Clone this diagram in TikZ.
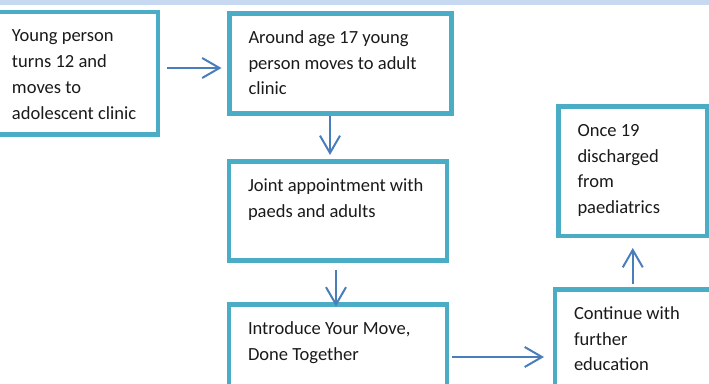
\documentclass[tikz,border=0pt]{standalone}
\usepackage{fontspec}
\setmainfont{Carlito}
\usetikzlibrary{arrows.meta,calc}
\definecolor{bordercol}{HTML}{4BACC6}
\definecolor{arrowcol}{HTML}{4A7EBB}
\definecolor{stripcol}{HTML}{C6D9F1}
\definecolor{textcol}{HTML}{1A1A1A}
\newdimen\pxl \pxl=0.75pt
\newcommand\boxtext[3]{\parbox[c][\dimexpr #2\pxl-14pt\relax][t]{\dimexpr #1\pxl-28.5pt\relax}{\raggedright\fontsize{13.9pt}{19.3pt}\selectfont\rule{0pt}{15.5pt}#3}}
\tikzset{
  box/.style={rectangle, draw=bordercol, line width=3.4pt, fill=white,
    inner xsep=14.25pt, inner ysep=7pt, outer sep=0pt, anchor=north west, text=textcol},
  arr/.style={draw=arrowcol, line width=1.5pt, -{Straight Barb[length=13pt,width=15pt]}}
}
\begin{document}
\begin{tikzpicture}[x=0.75pt,y=-0.75pt]
\useasboundingbox (0,0) rectangle (709,384);
\fill[stripcol] (0,0) rectangle (709,5);
\node[box] (b1) at (-7,12) {\boxtext{165}{122.5}{Young person\\turns 12 and\\moves to\\adolescent clinic}};
\node[box] (b2) at (229.5,13.5) {\boxtext{222}{100}{Around age 17 young\\person moves to adult\\clinic}};
\node[box] (b3) at (229,161.5) {\boxtext{218}{99}{Joint appointment with\\paeds and adults}};
\node[box] (b4) at (229,304.5) {\boxtext{218}{115.5}{Introduce Your Move,\\Done Together}};
\node[box] (b5) at (558.5,106.5) {\boxtext{148.5}{129.5}{Once 19\\discharged\\from\\paediatrics}};
\node[box] (b6) at (555,289.5) {\boxtext{205}{130.5}{Continue with\\further\\education}};
\draw[arr] ($(b1.east)+(9,-5.25)$) -- ($(b1.east -| b2.west)+(-8,-5.25)$);
\draw[arr] ($(b2.south)+(-10.5,2.5)$) -- ($(b2.south |- b3.north)+(-10.5,-6.5)$);
\draw[arr] ($(b3.south)+(-2,9.5)$) -- ($(b3.south |- b4.north)+(-2,2)$);
\draw[arr] ($(b4.north east)+(5,52.5)$) -- ($(b4.north east -| b6.west)+(-11,52.5)$);
\draw[arr] ($(b5.south |- b6.north)+(0,-5.5)$) -- ($(b5.south)+(0,12)$);
\end{tikzpicture}
\end{document}
